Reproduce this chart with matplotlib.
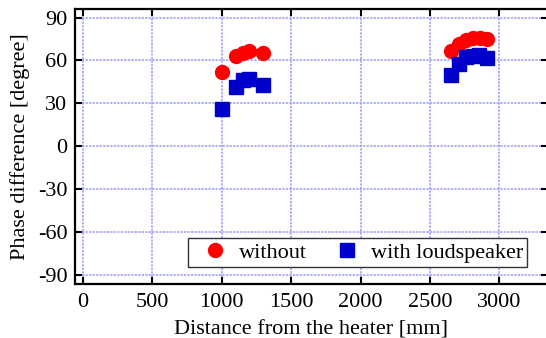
import matplotlib
matplotlib.use("Agg")
import matplotlib.pyplot as plt

# Data
x_without = [1000, 1100, 1150, 1200, 1300, 2650, 2710, 2760, 2810, 2860, 2910]
y_without = [52, 63, 65, 66.6, 65.5, 66.5, 71.5, 74.5, 75.5, 76, 75.3]
x_with = [1000, 1100, 1150, 1200, 1300, 2650, 2710, 2760, 2810, 2850, 2910]
y_with = [26, 41.5, 46.5, 47.2, 42.6, 49.6, 57.8, 62.3, 63, 63.5, 62]
xticks = [0, 500, 1000, 1500, 2000, 2500, 3000]
yticks = [-90, -60, -30, 0, 30, 60, 90]

plt.rcParams['font.family'] = ['Liberation Serif', 'DejaVu Serif']
plt.rcParams['axes.unicode_minus'] = False
fig = plt.figure(figsize=(5.46, 3.38), dpi=100)
ax = fig.add_axes([74.5/546, 54/338, (548-74.5)/546, 275/338])

ax.plot(x_without, y_without, 'o', color='#ff0000', markersize=10, label='without', zorder=3)
ax.plot(x_with, y_with, 's', color='#0000cc', markersize=10, label='with loudspeaker', zorder=3)

ax.set_xlim(-60, 3350)
ax.set_ylim(-96.5, 96)
ax.set_xticks(xticks)
ax.set_yticks(yticks)
ax.grid(True, color='#9a9aff', linestyle=(0, (1.5, 0.8)), linewidth=1.1)
ax.tick_params(axis='both', direction='in', length=5, width=1.5, labelsize=16,
               top=True, right=True)
ax.tick_params(axis='x', pad=6.5)
ax.tick_params(axis='y', pad=5)
for s in ax.spines.values():
    s.set_linewidth(1.6)

ax.set_xlabel('Distance from the heater [mm]', fontsize=16, labelpad=6)
ax.set_ylabel('Phase difference [degree]', fontsize=16, labelpad=6)

leg = ax.legend(ncol=2, loc='lower right', bbox_to_anchor=(0.956, 0.062),
                borderaxespad=0, fontsize=16, fancybox=False, framealpha=1,
                edgecolor='#333333', handletextpad=0.05, columnspacing=0.76,
                borderpad=0.18, handlelength=2.07)
leg.get_frame().set_linewidth(1.0)

fig.savefig('out.png', dpi=100)
